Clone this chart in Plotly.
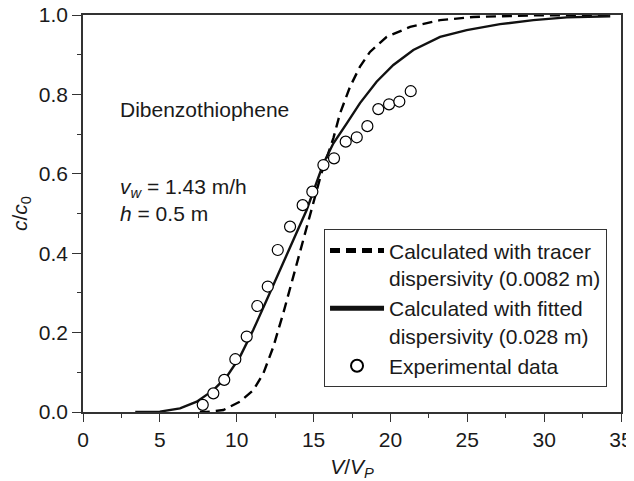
import plotly.graph_objects as go

# Experimental data
exp_x = [7.79, 8.48, 9.19, 9.91, 10.65, 11.34, 12.02, 12.67, 13.47, 14.29,
         14.92, 15.64, 16.33, 17.09, 17.81, 18.5, 19.21, 19.91, 20.58, 21.32]
exp_y = [0.018, 0.047, 0.081, 0.133, 0.19, 0.267, 0.316, 0.408, 0.467, 0.521,
         0.555, 0.622, 0.639, 0.681, 0.692, 0.72, 0.763, 0.775, 0.782, 0.808]

# Calculated with fitted dispersivity (solid)
fit_x = [3.4, 5.0, 6.31, 7.4, 8.48, 9.35, 10.21, 11.08, 11.95, 12.82, 13.68,
         14.55, 15.64, 16.29, 17.16, 18.02, 19.1, 20.19, 21.49, 23.23, 24.96,
         27.13, 29.3, 31.47, 34.3]
fit_y = [0.0, 0.001, 0.009, 0.026, 0.055, 0.089, 0.139, 0.207, 0.282, 0.358, 0.433,
         0.509, 0.626, 0.677, 0.727, 0.778, 0.832, 0.874, 0.912, 0.945, 0.962,
         0.977, 0.987, 0.994, 0.997]

# Calculated with tracer dispersivity (dashed)
tr_x = [7.6, 8.05, 9.13, 10.21, 11.08, 11.73, 12.38, 13.03, 13.68, 14.33, 14.98,
        15.5, 16.29, 16.72, 17.37, 18.02, 18.67, 19.76, 21.28, 23.23, 25.4,
        29.3, 34.3]
tr_y = [0.0, 0.0, 0.005, 0.026, 0.055, 0.097, 0.164, 0.249, 0.341, 0.433, 0.526,
        0.6, 0.69, 0.752, 0.819, 0.87, 0.907, 0.945, 0.97, 0.987, 0.995,
        0.999, 1.0]

x_ticks = [0, 5, 10, 15, 20, 25, 30, 35]
y_ticks = [0.0, 0.2, 0.4, 0.6, 0.8, 1.0]

FONT = "Liberation Sans, Arial, sans-serif"
FS = 21
TXT = "#1a1a1a"
AX = "#333333"

fig = go.Figure()
fig.add_trace(go.Scatter(
    x=tr_x, y=tr_y, mode="lines",
    line=dict(color="black", width=2.4, dash="10px,6px"),
    name="Calculated with tracer<br>dispersivity (0.0082 m)"))
fig.add_trace(go.Scatter(
    x=fit_x, y=fit_y, mode="lines",
    line=dict(color="#111111", width=2.4),
    name="Calculated with fitted<br>dispersivity (0.028 m)"))
fig.add_trace(go.Scatter(
    x=exp_x, y=exp_y, mode="markers",
    marker=dict(symbol="circle", size=11, color="white",
                line=dict(color="black", width=1.2)),
    name="Experimental data"))

fig.add_annotation(x=2.3, y=0.763, xref="x", yref="y", text="Dibenzothiophene",
                   showarrow=False, xanchor="left", yanchor="middle",
                   font=dict(family=FONT, size=FS, color=TXT))
fig.add_annotation(x=2.3, y=0.565, xref="x", yref="y",
                   text="<i>v</i><sub><i>w</i></sub> = 1.43 m/h",
                   showarrow=False, xanchor="left", yanchor="middle",
                   font=dict(family=FONT, size=FS, color=TXT))
fig.add_annotation(x=2.3, y=0.5, xref="x", yref="y",
                   text="<i>h</i> = 0.5 m",
                   showarrow=False, xanchor="left", yanchor="middle",
                   font=dict(family=FONT, size=FS, color=TXT))

fig.update_xaxes(
    range=[0, 35], tickvals=x_ticks, ticktext=[str(v) for v in x_ticks],
    ticks="outside", ticklen=8, tickwidth=1.3, tickcolor=AX,
    minor=dict(dtick=2.5, tick0=0, ticks="outside", ticklen=4, tickwidth=1.3, tickcolor=AX),
    showline=True, linecolor=AX, linewidth=1.5, mirror=True,
    showgrid=False, zeroline=False, automargin=False, ticklabeloverflow="allow",
    tickfont=dict(family=FONT, size=FS, color=TXT),
    title=dict(text="<i>V</i>/<i>V</i><sub><i>P</i></sub>",
               font=dict(family=FONT, size=FS, color=TXT), standoff=10))
fig.update_yaxes(
    range=[0, 1], tickvals=y_ticks, ticktext=[f"{v:.1f}" for v in y_ticks],
    ticks="outside", ticklen=9, tickwidth=1.3, tickcolor=AX,
    minor=dict(dtick=0.1, tick0=0, ticks="outside", ticklen=4, tickwidth=1.3, tickcolor=AX),
    showline=True, linecolor=AX, linewidth=1.5, mirror=True,
    showgrid=False, zeroline=False, automargin=False, ticklabeloverflow="allow",
    tickfont=dict(family=FONT, size=FS, color=TXT),
    title=dict(text="<i>c</i>/<i>c</i><sub>0</sub>",
               font=dict(family=FONT, size=FS, color=TXT), standoff=8))

# page body adds an 8px offset, so the figure is 8px smaller on each side
fig.update_layout(
    width=626, height=473,
    margin=dict(l=75, r=13, t=7, b=69),
    plot_bgcolor="white", paper_bgcolor="white",
    font=dict(family=FONT, size=FS, color=TXT),
    showlegend=True,
    legend=dict(x=0.448, y=0.46, xanchor="left", yanchor="top",
                bgcolor="white", bordercolor=AX, borderwidth=1,
                font=dict(family=FONT, size=FS, color=TXT),
                valign="top", tracegroupgap=0, itemsizing="constant",
                itemwidth=54),
)

fig.write_html("out.html")
